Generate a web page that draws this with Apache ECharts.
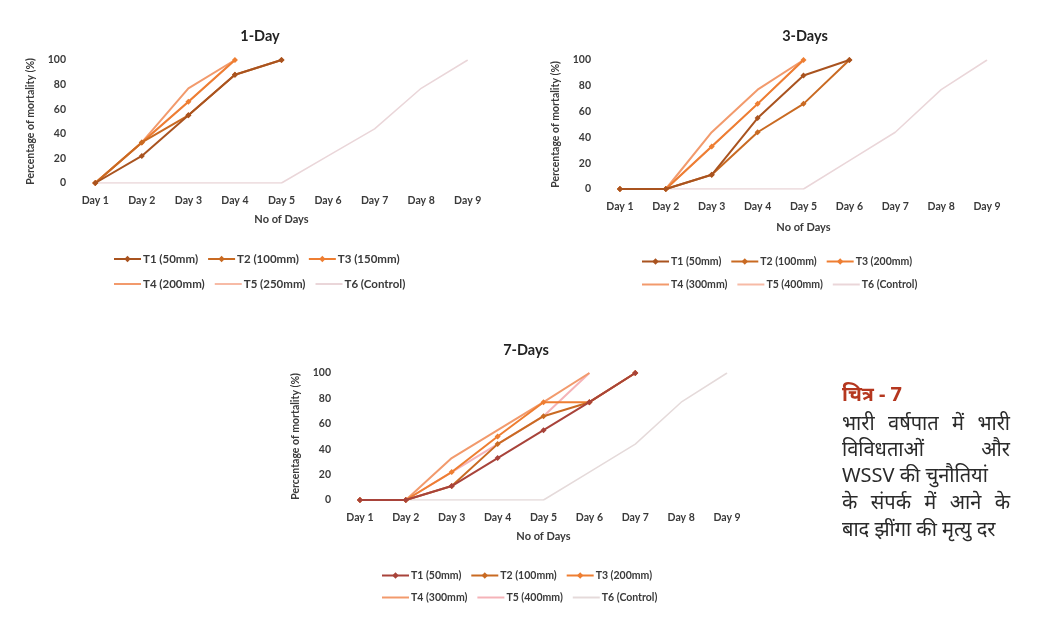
<!DOCTYPE html>
<html>
<head>
<meta charset="utf-8">
<script src="https://cdn.jsdelivr.net/npm/echarts@6/dist/echarts.min.js"></script>
<style>
  html, body { margin: 0; padding: 0; background: #fff; }
  #chart { width: 1047px; height: 626px; }
</style>
</head>
<body>
<div id="chart"></div>
<script>
// Category axis and tick labels
const days = ['Day 1', 'Day 2', 'Day 3', 'Day 4', 'Day 5', 'Day 6', 'Day 7', 'Day 8', 'Day 9'];
const yTicks = [0, 20, 40, 60, 80, 100];

// Treatment names per panel
const namesOneDay = ['T1 (50mm)', 'T2 (100mm)', 'T3 (150mm)', 'T4 (200mm)', 'T5 (250mm)', 'T6 (Control)'];
const namesThreeDays = ['T1 (50mm)', 'T2 (100mm)', 'T3 (200mm)', 'T4 (300mm)', 'T5 (400mm)', 'T6 (Control)'];
const namesSevenDays = ['T1 (50mm)', 'T2 (100mm)', 'T3 (200mm)', 'T4 (300mm)', 'T5 (400mm)', 'T6 (Control)'];

// Mortality (%) — 1-Day exposure
const oneDayT1 = [0, 22, 55, 88, 100];
const oneDayT2 = [0, 33, 55, 88, 100];
const oneDayT3 = [0, 33, 66, 100];
const oneDayT4 = [0, 33, 77, 100];
const oneDayT5 = [0, 33, 66, 100];
const oneDayT6 = [0, 0, 0, 0, 0, 22, 44, 77, 100];

// Mortality (%) — 3-Days exposure
const threeDaysT1 = [0, 0, 11, 55, 88, 100];
const threeDaysT2 = [0, 0, 11, 44, 66, 100];
const threeDaysT3 = [0, 0, 33, 66, 100];
const threeDaysT4 = [0, 0, 44, 77, 100];
const threeDaysT5 = [0, 0, 33, 66, 100];
const threeDaysT6 = [0, 0, 0, 0, 0, 22, 44, 77, 100];

// Mortality (%) — 7-Days exposure
const sevenDaysT1 = [0, 0, 11, 33, 55, 77, 100];
const sevenDaysT2 = [0, 0, 11, 44, 66, 77, 100];
const sevenDaysT3 = [0, 0, 22, 50, 77, 77, 100];
const sevenDaysT4 = [0, 0, 33, 55, 77, 100];
const sevenDaysT5 = [0, 0, 22, 44, 66, 100];
const sevenDaysT6 = [0, 0, 0, 0, 0, 22, 44, 77, 100];

// Caption beside the bottom chart (each line split into words; justified lines flagged)
const captionTitle = 'चित्र - 7';
const captionLines = [
  { words: ['भारी', 'वर्षपात', 'में', 'भारी'], justify: true },
  { words: ['विविधताओं', 'और'], justify: true },
  { words: ['WSSV', 'की', 'चुनौतियां'], justify: false },
  { words: ['के', 'संपर्क', 'में', 'आने', 'के'], justify: true },
  { words: ['बाद', 'झींगा', 'की', 'मृत्यु', 'दर'], justify: false }
];

const colorsA = ['#A9531F', '#C96A22', '#EE7E32', '#F29A6C', '#F7BBA6', '#EAD6D9'];
const colorsC = ['#A8433A', '#C96A22', '#EE7E32', '#F29A6C', '#F5B3B8', '#E5DADA'];
const symbols = ['diamond', 'diamond', 'diamond', 'none', 'none', 'none'];

const FONT = 'Lato, "Open Sans", sans-serif';
const TXT = '#3a3a3a';

const panels = [
  { key: 'a', title: '1-Day', names: namesOneDay, data: [oneDayT1, oneDayT2, oneDayT3, oneDayT4, oneDayT5, oneDayT6],
    grid: { left: 72, top: 60, width: 419, height: 123 }, titlePos: { x: 255, y: 24 },
    legendLeft: 108, legendTops: [248, 273], colors: colorsA, legendFont: 11.5, xNameGap: 31 },
  { key: 'b', title: '3-Days', names: namesThreeDays, data: [threeDaysT1, threeDaysT2, threeDaysT3, threeDaysT4, threeDaysT5, threeDaysT6],
    grid: { left: 597, top: 60, width: 413, height: 129 }, titlePos: { x: 800, y: 24 },
    legendLeft: 636, legendTops: [251, 274], colors: colorsA, legendFont: 10.5, xNameGap: 33 },
  { key: 'c', title: '7-Days', names: namesSevenDays, data: [sevenDaysT1, sevenDaysT2, sevenDaysT3, sevenDaysT4, sevenDaysT5, sevenDaysT6],
    grid: { left: 337, top: 373, width: 413, height: 127 }, titlePos: { x: 521, y: 338 },
    legendLeft: 376, legendTops: [565, 587], colors: colorsC, legendFont: 10.5, xNameGap: 31 }
];

const option = {
  backgroundColor: '#ffffff',
  animation: false,
  title: [], grid: [], xAxis: [], yAxis: [], legend: [], series: [],
  graphic: []
};

panels.forEach((p, i) => {
  option.title.push({
    text: p.title, left: p.titlePos.x, top: p.titlePos.y, textAlign: 'center',
    textStyle: { fontFamily: FONT, fontSize: 14.5, fontWeight: 'bold', color: '#222' }
  });
  option.grid.push(Object.assign({ containLabel: false }, p.grid));
  option.xAxis.push({
    type: 'category', gridIndex: i, data: days, boundaryGap: true,
    name: 'No of Days', nameLocation: 'middle', nameGap: p.xNameGap,
    nameTextStyle: { fontFamily: FONT, fontSize: 11, fontWeight: 'bold', color: TXT },
    axisLine: { show: false }, axisTick: { show: false }, splitLine: { show: false },
    axisLabel: { fontFamily: FONT, fontSize: 10.5, fontWeight: 'bold', color: TXT, margin: 12, interval: 0 }
  });
  option.yAxis.push({
    type: 'value', gridIndex: i, min: yTicks[0], max: yTicks[yTicks.length - 1], interval: 20,
    name: 'Percentage of mortality (%)', nameLocation: 'middle', nameGap: 36,
    nameTextStyle: { fontFamily: FONT, fontSize: 10.5, fontWeight: 'bold', color: TXT },
    axisLine: { show: false }, axisTick: { show: false }, splitLine: { show: false },
    axisLabel: { fontFamily: FONT, fontSize: 10.5, fontWeight: 'bold', color: TXT, margin: 6 }
  });
  const ids = p.names.map(n => p.key + '|' + n);
  [0, 1].forEach(r => {
    option.legend.push({
      data: ids.slice(r * 3, r * 3 + 3).map((id, k) => {
        const s = r * 3 + k;
        return symbols[s] === 'none' ? { name: id, itemStyle: { opacity: 0 } } : { name: id };
      }),
      left: p.legendLeft, top: p.legendTops[r], itemWidth: 27, itemHeight: 8, itemGap: 9,
      formatter: name => name.split('|')[1],
      textStyle: { fontFamily: FONT, fontSize: p.legendFont, fontWeight: 'bold', color: TXT, padding: [0, 0, 0, -3] }
    });
  });
  p.data.forEach((vals, s) => {
    option.series.push({
      name: ids[s], type: 'line', xAxisIndex: i, yAxisIndex: i, data: vals,
      symbol: symbols[s], symbolSize: 6, showSymbol: symbols[s] !== 'none',
      lineStyle: { width: s === 5 ? 1.5 : 2, color: p.colors[s] },
      itemStyle: { color: p.colors[s] },
      z: 10 - s
    });
  });
});

// Caption text block: words placed individually so justified lines fill the column
const CAP_FONT = '20px "Noto Sans", sans-serif';
const capLeft = 842, capRight = 1010;
const measurer = document.createElement('canvas').getContext('2d');
measurer.font = CAP_FONT;
const spaceW = measurer.measureText(' ').width;

option.graphic.push({
  type: 'text', left: capLeft, top: 398 - 13,
  style: { text: captionTitle, font: 'bold 20px "Noto Sans", sans-serif', fill: '#B5371F' }
});
const lineCenters = [424, 450, 476, 503, 530];
captionLines.forEach((ln, k) => {
  const widths = ln.words.map(w => measurer.measureText(w).width);
  const total = widths.reduce((a, b) => a + b, 0);
  const gap = ln.justify ? (capRight - capLeft - total) / (ln.words.length - 1) : spaceW;
  let x = capLeft;
  ln.words.forEach((w, j) => {
    option.graphic.push({
      type: 'text', x: x, y: lineCenters[k],
      style: { text: w, font: CAP_FONT, fill: '#2a2a2a', textVerticalAlign: 'middle', verticalAlign: 'middle' }
    });
    x += widths[j] + gap;
  });
});

const chart = echarts.init(document.getElementById('chart'), null, { renderer: 'canvas' });
chart.setOption(option);
</script>
</body>
</html>
